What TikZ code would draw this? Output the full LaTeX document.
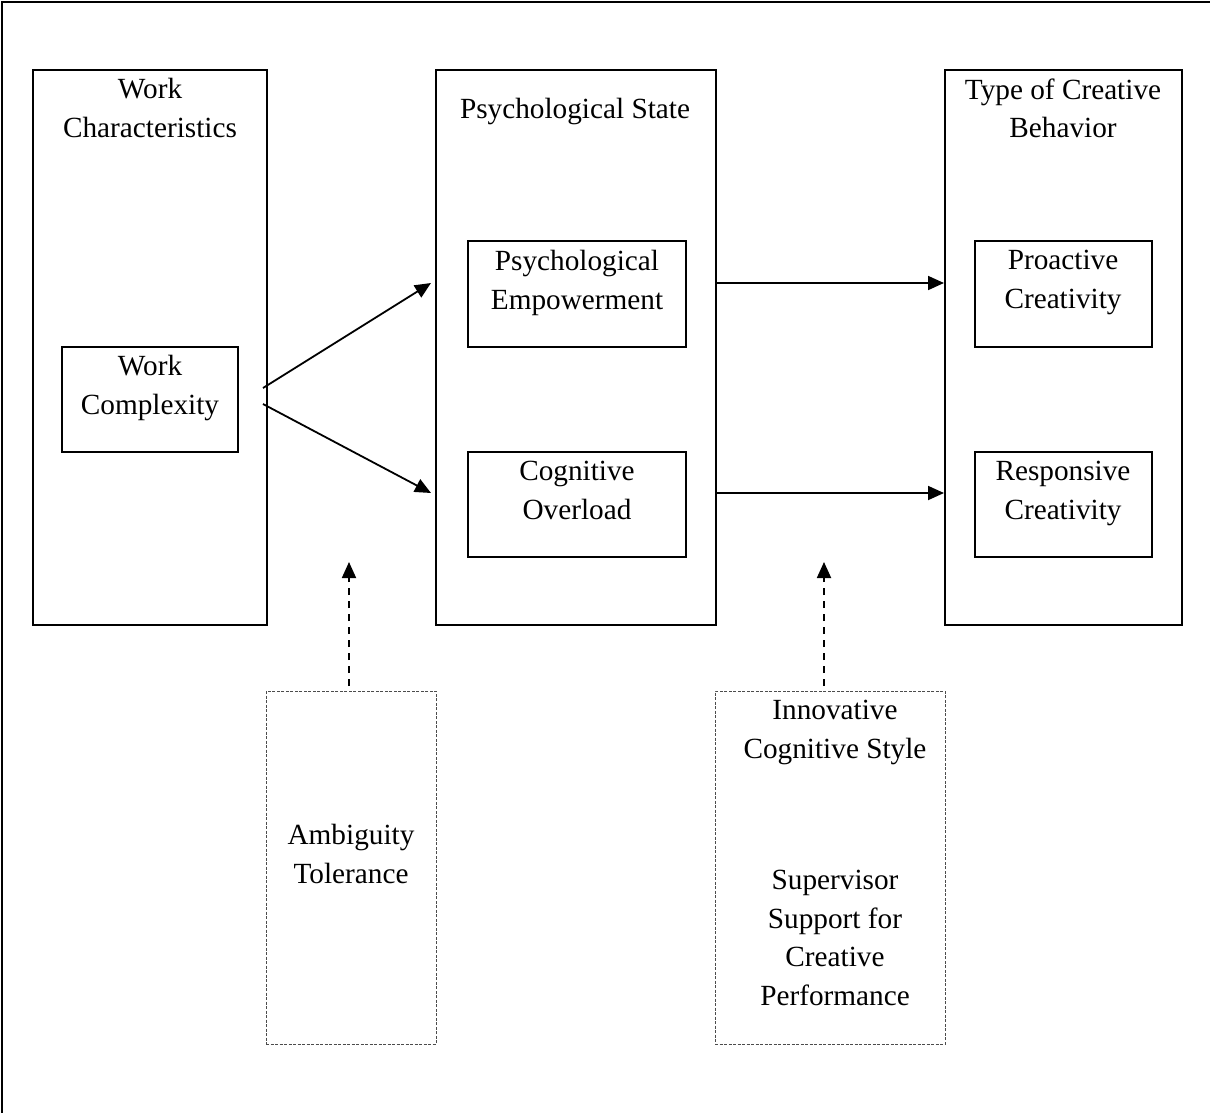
\documentclass[tikz,border=0pt]{standalone}
\usepackage{fontspec}
\setmainfont{Liberation Serif}
\usetikzlibrary{arrows.meta}
\begin{document}
\begin{tikzpicture}[x=0.5pt,y=-0.5pt,
  box/.style={draw,line width=1pt,inner sep=0pt},
  modbox/.style={draw=black!70,line width=0.5pt,dash pattern=on 1.5pt off 0.75pt,inner sep=0pt},
  txt/.style={anchor=north,inner sep=0pt,align=center,font=\fontsize{14.63}{19.3}\selectfont},
  arr/.style={line width=0.9pt,-{Triangle[length=8pt,width=7pt]}},
  darr/.style={line width=0.9pt,dash pattern=on 3.5pt off 3pt,-{Triangle[length=8pt,width=7pt]}}]
\useasboundingbox (0,0) rectangle (1210,1113);
% outer frame (only left and top edges visible)
\draw[line width=1pt] (2,1113) -- (2,2) -- (1210,2);
% large boxes
\node[box,minimum width=117pt,minimum height=277.5pt] (wcbox) at (150,347.5) {};
\node[box,minimum width=140pt,minimum height=277.5pt] (psbox) at (576,347.5) {};
\node[box,minimum width=118.5pt,minimum height=277.5pt] (tcbox) at (1063.5,347.5) {};
% inner boxes
\node[box,minimum width=88pt,minimum height=52.5pt] (wcx) at (150,399.5) {};
\node[box,minimum width=109pt,minimum height=53pt] (pe) at (577,294) {};
\node[box,minimum width=109pt,minimum height=52.5pt] (co) at (577,504.5) {};
\node[box,minimum width=88.5pt,minimum height=53pt] (pc) at (1063.5,294) {};
\node[box,minimum width=88.5pt,minimum height=52.5pt] (rc) at (1063.5,504.5) {};
% moderator boxes
\node[modbox,minimum width=85pt,minimum height=176.5pt] (at) at (351,867.5) {};
\node[modbox,minimum width=115pt,minimum height=176.5pt] (ic) at (830,867.5) {};
% texts
\node[txt] (t1) at (150,78) {Work\\Characteristics};
\node[txt] (t2) at (575,98) {Psychological State};
\node[txt] (t3) at (1063,78) {Type of Creative\\Behavior};
\node[txt] (t4) at (577,250) {Psychological\\Empowerment};
\node[txt] (t5) at (150,355) {Work\\Complexity};
\node[txt] (t6) at (577,461) {Cognitive\\Overload};
\node[txt] (t7) at (1063,250) {Proactive\\Creativity};
\node[txt] (t8) at (1063,461) {Responsive\\Creativity};
\node[txt] (t9) at (351,824) {Ambiguity\\Tolerance};
\node[txt] (t10) at (835,700) {Innovative\\Cognitive Style};
\node[txt] (t11) at (835,870) {Supervisor\\Support for\\Creative\\Performance};
% connector points
\coordinate (a1) at (263,388);
\coordinate (a2) at (263,404);
\coordinate (b1) at (431,283);
\coordinate (b2) at (431,493);
\coordinate (m1s) at (349,686);
\coordinate (m1e) at (349,562);
\coordinate (m2s) at (824,686);
\coordinate (m2e) at (824,562);
% arrows
\draw[arr] (a1) -- (b1);
\draw[arr] (a2) -- (b2);
\draw[arr] (psbox.east |- 0,283) -- (tcbox.west |- 0,283);
\draw[arr] (psbox.east |- 0,493) -- (tcbox.west |- 0,493);
\draw[darr] (m1s) -- (m1e);
\draw[darr] (m2s) -- (m2e);
\end{tikzpicture}
\end{document}
